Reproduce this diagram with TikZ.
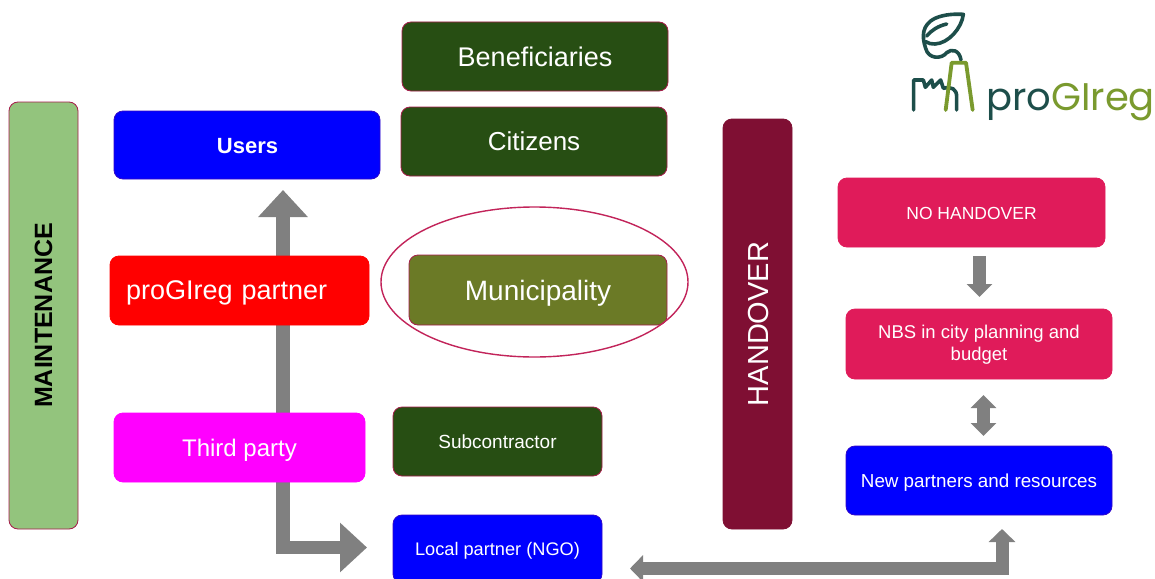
\documentclass[tikz,border=0pt]{standalone}
\usepackage{fontspec}
\setmainfont{Liberation Sans}
\newfontfamily\logofont{Poppins}
\usetikzlibrary{arrows.meta,backgrounds,shapes.geometric}
\definecolor{gdark}{HTML}{274E13}
\definecolor{bred}{HTML}{A61C4A}
\definecolor{ringred}{HTML}{C2245A}
\definecolor{olivebox}{HTML}{6B7A26}
\definecolor{mgreen}{HTML}{93C47D}
\definecolor{hmaroon}{HTML}{7F0F33}
\definecolor{crimson}{HTML}{E01B5A}
\definecolor{arrowgrey}{HTML}{808080}
\definecolor{logodark}{HTML}{1D4E4A}
\definecolor{logoolive}{HTML}{7A9A2E}
\definecolor{puremagenta}{HTML}{FF00FF}
\definecolor{pureblue}{HTML}{0000FF}
\definecolor{purered}{HTML}{FF0000}
\tikzset{
 box/.style={rounded corners=9pt,draw=#1,fill=#1,line width=.8pt,text=white,align=center,inner sep=0pt,outer sep=0pt},
 gbox/.style={box=gdark,draw=bred},
 nodepth/.style={text depth=0pt},
 bigarrow/.style={draw=arrowgrey,line width=13.5pt,line join=miter,-{Triangle[length=27pt,width=48pt]}},
 smallarrow/.style={draw=arrowgrey,line width=13pt,-{Triangle[length=13pt,width=25pt]}},
 logod/.style={draw=logodark,line width=3.6pt,line cap=round,line join=round},
 logoo/.style={draw=logoolive,line width=3.8pt,line cap=round,line join=round}
}
\begin{document}
\begin{tikzpicture}[x=1pt,y=-1pt]
\useasboundingbox (0,0) rectangle (1155,578);
\begin{pgfonlayer}{background}
\fill[white] (0,0) rectangle (1155,578);
\end{pgfonlayer}
% boxes
\node[gbox,minimum width=266pt,minimum height=69pt,font=\fontsize{27}{32}\selectfont] (benef) at (535,56.5) {Beneficiaries};
\node[gbox,minimum width=266pt,minimum height=69pt,font=\fontsize{26}{31}\selectfont] (citizens) at (534,141.5) {Citizens};
\node[box=pureblue,draw=bred!30!pureblue,minimum width=266pt,minimum height=68pt] (users) at (247,145) {};
\node[font=\fontsize{22}{27}\selectfont\bfseries,text=white] (userstext) at (247.5,146.5) {Users};
\node[box=purered,minimum width=259pt,minimum height=69pt,text width=233pt,align=left,nodepth,font=\fontsize{27}{32}\selectfont] (partner) at (239.5,290.5) {\hspace*{3pt}proGIreg partner};
\node[box=olivebox,draw=bred,minimum width=258pt,minimum height=70pt,nodepth,font=\fontsize{28}{33}\selectfont] (muni) at (538,290) {Municipality};
\node[draw=ringred,line width=1.4pt,ellipse,minimum width=307pt,minimum height=150pt,inner sep=0pt] (ring) at (534.5,282) {};
\node[box=puremagenta,minimum width=251pt,minimum height=69pt,nodepth,font=\fontsize{24}{29}\selectfont] (third) at (239.5,447.5) {Third party};
\node[gbox,minimum width=209pt,minimum height=69pt,font=\fontsize{19}{23}\selectfont] (sub) at (497.5,441.5) {Subcontractor};
\node[box=pureblue,draw=bred!30!pureblue,minimum width=209pt,minimum height=68pt,nodepth,font=\fontsize{18.2}{22}\selectfont] (local) at (497.5,549) {Local partner (NGO)};
\node[box=mgreen,draw=bred,minimum width=69pt,minimum height=427pt] (maint) at (43.5,315.5) {};
\node[rotate=90,font=\fontsize{25}{29}\selectfont\bfseries,text=black] (mainttext) at (maint.center) {MAINTENANCE};
\node[box=hmaroon,minimum width=69pt,minimum height=410pt] (hand) at (757.5,324) {};
\node[rotate=90,font=\fontsize{29}{34}\selectfont,text=white] (handtext) at (759,324) {HANDOVER};
\node[box=crimson,minimum width=267pt,minimum height=69pt] (nohand) at (971.5,212.5) {};
\node[font=\fontsize{17.5}{22}\selectfont,text=white] (nohandtext) at (971.5,213.5) {NO HANDOVER};
\node[box=crimson,minimum width=266pt,minimum height=70pt] (nbs) at (979,344) {};
\node[align=center,font=\fontsize{18.5}{22}\selectfont,text=white] (nbstext) at (979,345) {NBS in city planning and\\budget};
\node[box=pureblue,draw=bred!30!pureblue,minimum width=266pt,minimum height=69pt,nodepth,font=\fontsize{18.8}{23}\selectfont] (newp) at (979,480.5) {New partners and resources};
% connectors
\coordinate (trunk) at (283,0);
\coordinate (bj) at (1002,568.5);
\coordinate (dn) at (979.5,0);
\coordinate (dbl) at (983.5,0);
\begin{pgfonlayer}{background}
\draw[bigarrow,shorten >=11pt] (third.north -| trunk) -- (users.south -| trunk);
\draw[bigarrow,shorten >=26pt] (third.south -| trunk) |- ([yshift=1.5pt]local.west);
\draw[bigarrow,{Triangle[length=13pt,width=26pt]}-{Triangle[length=13pt,width=26pt]},line width=13pt,shorten <=28pt,shorten >=14pt] (bj -| local.east) -- (bj) -- (newp.south -| bj);
\draw[smallarrow,shorten <=9pt,shorten >=12pt] (nohand.south -| dn) -- (nbs.north -| dn);
\draw[smallarrow,{Triangle[length=13pt,width=25pt]}-{Triangle[length=13pt,width=25pt]},shorten <=16pt,shorten >=10pt] (nbs.south -| dbl) -- (newp.north -| dbl);
\end{pgfonlayer}
% logo
\begin{scope}[shift={(880,0)},x=1/3*1pt,y=-1/3*1pt]
\draw[logod] (243,180) .. controls (238,150) and (215,145) .. (200,158) .. controls (185,178) and (145,178) .. (137,145) .. controls (125,110) and (125,75) .. (165,55) .. controls (195,42) and (225,42) .. (250,43) .. controls (245,85) and (205,130) .. (165,132) .. controls (155,133) and (145,130) .. (137,125);
\draw[logod] (140,108) .. controls (155,90) and (175,78) .. (200,72);
\draw[logod] (101,330) -- (101,240) -- (130,240) -- (136,262) -- (155,240) -- (160,262) -- (182,240) -- (190,265) .. controls (215,258) and (230,268) .. (230,290) -- (230,330);
\draw[logoo] (197,330) -- (215,188) -- (258,188) -- (278,330);
\end{scope}
\node[anchor=base west,inner sep=0pt,font=\logofont\fontsize{38.5}{40}\selectfont,text=logodark] (logotext) at (986,110) {pro\textcolor{logoolive}{GIreg}};
\end{tikzpicture}
\end{document}
